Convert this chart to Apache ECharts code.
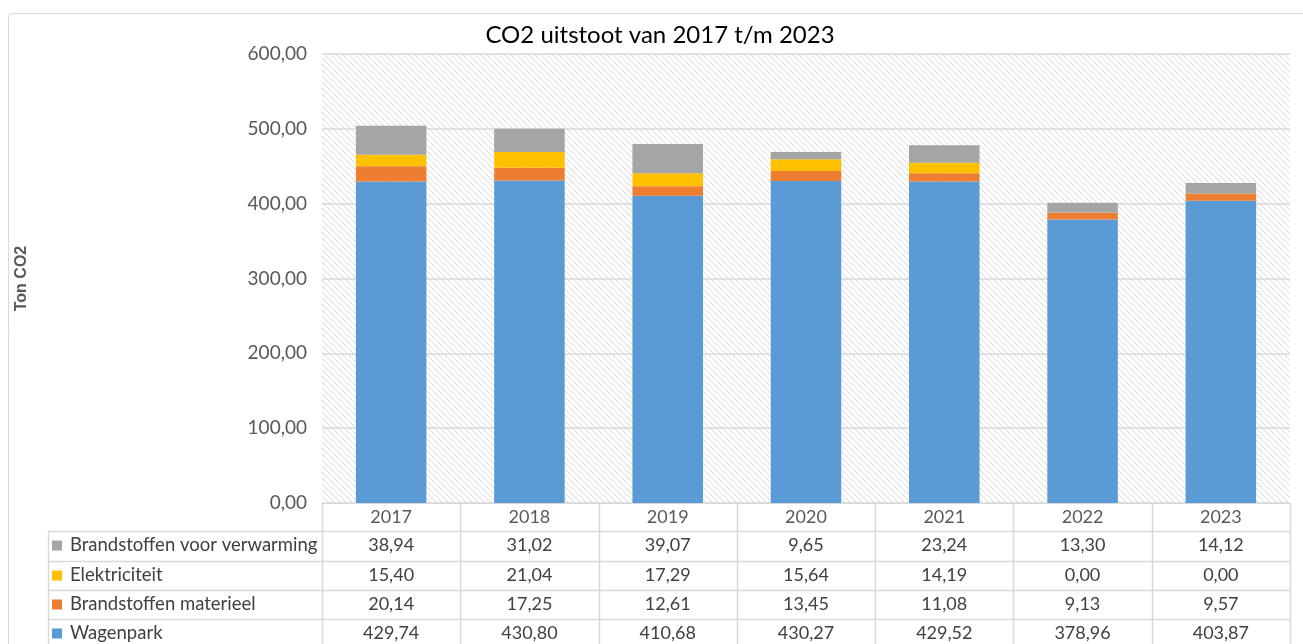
<!DOCTYPE html>
<html><head><meta charset="utf-8">
<script src="https://cdn.jsdelivr.net/npm/echarts@6/dist/echarts.min.js"></script>
<style>html,body{margin:0;padding:0;background:#fff}#c{width:1303px;height:644px}</style>
</head><body><div id="c"></div>
<script>
const categories = ['2017','2018','2019','2020','2021','2022','2023'];
const wagenpark = [429.74, 430.80, 410.68, 430.27, 429.52, 378.96, 403.87];
const materieel = [20.14, 17.25, 12.61, 13.45, 11.08, 9.13, 9.57];
const elektriciteit = [15.40, 21.04, 17.29, 15.64, 14.19, 0.00, 0.00];
const verwarming = [38.94, 31.02, 39.07, 9.65, 23.24, 13.30, 14.12];
const yTicks = [0, 100, 200, 300, 400, 500, 600];

const seriesDefs = [
  {name:'Wagenpark', data:wagenpark, color:'#5b9bd5'},
  {name:'Brandstoffen materieel', data:materieel, color:'#ed7d31'},
  {name:'Elektriciteit', data:elektriciteit, color:'#ffc000'},
  {name:'Brandstoffen voor verwarming', data:verwarming, color:'#a5a5a5'}
];
const tableOrder = [3,2,1,0];
const fmt = v => v.toFixed(2).replace('.', ',');
const FONT = 'Lato, "Open Sans", sans-serif';

// hatch pattern
const pc = document.createElement('canvas');
pc.width = 6; pc.height = 6;
const g = pc.getContext('2d');
g.fillStyle = '#ffffff'; g.fillRect(0,0,6,6);
g.strokeStyle = '#d9d9d9'; g.lineWidth = 1;
for (let k=-1;k<=1;k++){ g.beginPath(); g.moveTo(k*6-1,-1); g.lineTo(k*6+7,7); g.stroke(); }

const GL = 322, GR = 13, GT = 54, GB = 141;
const chart = echarts.init(document.getElementById('c'), null, {renderer:'canvas'});
chart.setOption({
  animation:false,
  backgroundColor:'#fff',
  title:{text:'CO2 uitstoot van 2017 t/m 2023', left:655, textAlign:'center', top:18,
    textStyle:{fontFamily:FONT, fontSize:24, fontWeight:'normal', color:'#000'}},
  grid:{left:GL, right:GR, top:GT, bottom:GB, show:true, borderWidth:0,
    backgroundColor:{image:pc, repeat:'repeat'}},
  xAxis:{type:'category', data:categories,
    axisLine:{lineStyle:{color:'#d9d9d9', width:1}}, axisTick:{show:false},
    axisLabel:{fontFamily:FONT, fontSize:18, color:'#595959', margin:5}},
  yAxis:{type:'value', min:0, max:600, interval:100,
    name:'Ton CO2', nameLocation:'middle', nameRotate:90, nameGap:292,
    nameTextStyle:{fontFamily:'"Liberation Sans", Arial, sans-serif', fontSize:16, fontWeight:'bold', color:'#595959'},
    axisLine:{show:false}, axisTick:{show:false},
    axisLabel:{fontFamily:FONT, fontSize:19, color:'#595959', margin:15, formatter:v=>fmt(v)},
    splitLine:{lineStyle:{color:'#d9d9d9', width:1.5}}},
  series: seriesDefs.map(s=>({name:s.name, type:'bar', stack:'t', data:s.data, barWidth:'51%',
    itemStyle:{color:s.color}}))
});

// table built from data
const gr = [];
const lineC = '#d9d9d9';
const xs = [];
for (let i=0;i<categories.length;i++) xs.push(chart.convertToPixel({xAxisIndex:0}, categories[i]));
const colW = xs.length>1 ? xs[1]-xs[0] : 100;
const axisY = chart.convertToPixel({yAxisIndex:0}, 0);
const rowTops = [axisY+28, axisY+58, axisY+87, axisY+116];
const rowH = 29;
const tableLeft = 48;
const tableRight = xs[xs.length-1] + colW/2;
for (let i=0;i<=categories.length;i++){
  const x = Math.round(xs[0]-colW/2 + i*colW)+0.5;
  gr.push({type:'line', shape:{x1:x,y1:axisY,x2:x,y2:660}, style:{stroke:lineC, lineWidth:1.5}});
}
gr.push({type:'line', shape:{x1:tableLeft+0.5,y1:rowTops[0],x2:tableLeft+0.5,y2:660}, style:{stroke:lineC, lineWidth:1.5}});
rowTops.forEach(y=>{
  gr.push({type:'line', shape:{x1:tableLeft,y1:Math.round(y)+0.5,x2:tableRight,y2:Math.round(y)+0.5}, style:{stroke:lineC, lineWidth:1.5}});
});
tableOrder.forEach((si,r)=>{
  const s = seriesDefs[si];
  const cy = rowTops[r] + rowH/2;
  gr.push({type:'rect', shape:{x:52, y:cy-5, width:10, height:10}, style:{fill:s.color}});
  gr.push({type:'text', x:70, y:cy, style:{text:s.name, fontFamily:FONT, fontSize:18.5, fill:'#404040', textVerticalAlign:'middle', textAlign:'left'}});
  s.data.forEach((v,i)=>{
    gr.push({type:'text', x:xs[i], y:cy, style:{text:fmt(v), fontFamily:FONT, fontSize:18, fill:'#404040', textVerticalAlign:'middle', textAlign:'center'}});
  });
});
gr.push({type:'rect', shape:{x:8.5, y:13.5, width:1310, height:700, r:4}, style:{fill:null, stroke:'#d9d9d9', lineWidth:1}});
chart.setOption({graphic:{elements:gr}});
</script></body></html>
